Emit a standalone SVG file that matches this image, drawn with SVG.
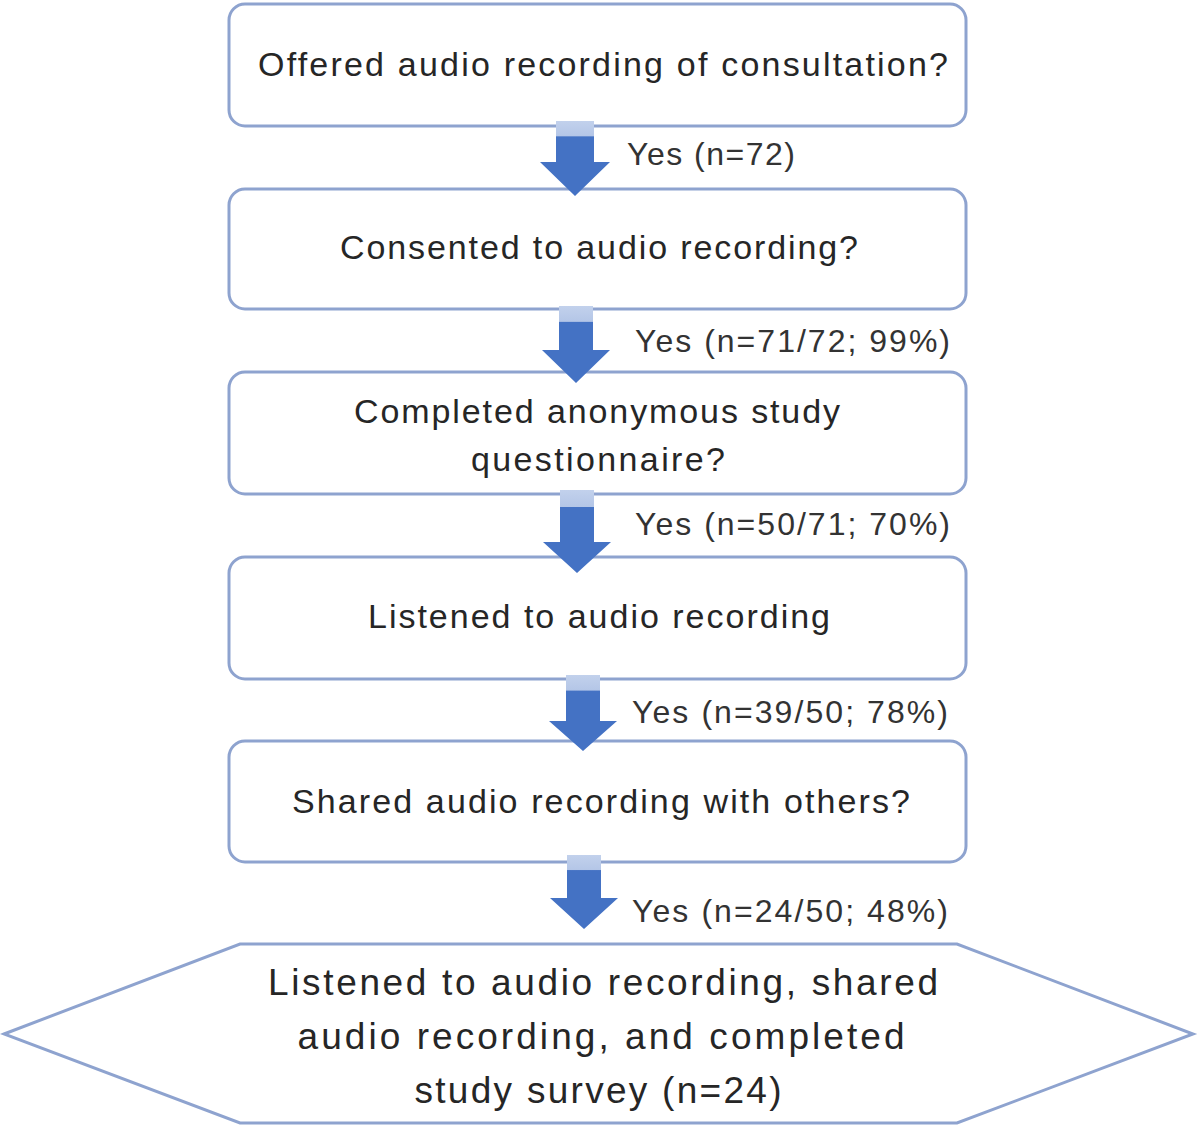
<svg xmlns="http://www.w3.org/2000/svg" width="1200" height="1128" viewBox="0 0 1200 1128">
<defs>
<style>
.box{fill:#ffffff;stroke:#8ea3cf;stroke-width:3}
.t{font-family:"Liberation Sans",Arial,sans-serif;font-size:34px;fill:#262626;text-anchor:middle}
.h{font-family:"Liberation Sans",Arial,sans-serif;font-size:37px;fill:#262626;text-anchor:middle}
.l{font-family:"Liberation Sans",Arial,sans-serif;font-size:32px;fill:#333333}
.arrow{fill:url(#ag)}
</style>
<linearGradient id="ag" x1="0" y1="0" x2="0" y2="1">
<stop offset="0" stop-color="#c2d1ec"/>
<stop offset="0.2" stop-color="#b4c6e7"/>
<stop offset="0.21" stop-color="#4472c4"/>
<stop offset="1" stop-color="#4472c4"/>
</linearGradient>
</defs>
<rect width="1200" height="1128" fill="#ffffff"/>
<g id="node1"><rect class="box" x="229" y="4" width="737" height="122" rx="16"/>
<text class="t" x="603" y="76" textLength="690">Offered audio recording of consultation?</text></g>
<g id="node2"><rect class="box" x="229" y="189" width="737" height="120" rx="16"/>
<text class="t" x="599" y="259" textLength="518">Consented to audio recording?</text></g>
<g id="node3"><rect class="box" x="229" y="372" width="737" height="122" rx="16"/>
<text class="t" x="597" y="423" textLength="486">Completed anonymous study</text>
<text class="t" x="598" y="471" textLength="254">questionnaire?</text></g>
<g id="node4"><rect class="box" x="229" y="557" width="737" height="122" rx="16"/>
<text class="t" x="599" y="628" textLength="462">Listened to audio recording</text></g>
<g id="node5"><rect class="box" x="229" y="741" width="737" height="121" rx="16"/>
<text class="t" x="601" y="813" textLength="618">Shared audio recording with others?</text></g>
<g id="node6"><polygon class="box" points="4,1034 240,944 957,944 1193,1034 957,1123 240,1123"/>
<text class="h" x="603" y="995" textLength="670">Listened to audio recording, shared</text>
<text class="h" x="601" y="1049" textLength="607">audio recording, and completed</text>
<text class="h" x="598" y="1103" textLength="367">study survey (n=24)</text></g>
<g id="connectors">
<polygon class="arrow" points="556,121 594,121 594,162 610,162 575,196 540,162 556,162"/>
<polygon class="arrow" points="559,306 593,306 593,350 610,350 576,383 542,350 559,350"/>
<polygon class="arrow" points="560,490 594,490 594,542 611,542 577,573 543,542 560,542"/>
<polygon class="arrow" points="566,675 600,675 600,721 617,721 583,751 549,721 566,721"/>
<polygon class="arrow" points="567,855 601,855 601,898 618,898 584,929 550,898 567,898"/>
<text class="l" x="627" y="165" textLength="168">Yes (n=72)</text>
<text class="l" x="635" y="352" textLength="315">Yes (n=71/72; 99%)</text>
<text class="l" x="635" y="535" textLength="315">Yes (n=50/71; 70%)</text>
<text class="l" x="632" y="723" textLength="316">Yes (n=39/50; 78%)</text>
<text class="l" x="632" y="922" textLength="316">Yes (n=24/50; 48%)</text>
</g>
</svg>
